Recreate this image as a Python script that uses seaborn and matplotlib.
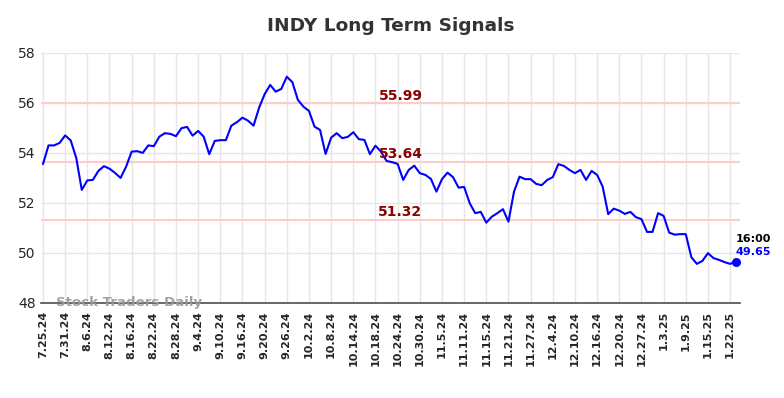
import numpy as np
import pandas as pd
import seaborn as sns
import matplotlib
matplotlib.use('Agg')
import matplotlib.pyplot as plt

TICKER = "INDY"

# closing prices, one per trading day from 7.25.24
closes = [
    53.55, 54.30, 54.30, 54.40, 54.70, 54.50, 53.80, 52.52, 52.90, 52.92,
    53.28, 53.47, 53.37, 53.20, 53.00, 53.45, 54.05, 54.07, 54.00, 54.30,
    54.27, 54.65, 54.79, 54.76, 54.67, 54.99, 55.04, 54.69, 54.88, 54.65,
    53.95, 54.48, 54.51, 54.51, 55.09, 55.23, 55.41, 55.29, 55.09, 55.81,
    56.35, 56.72, 56.45, 56.56, 57.05, 56.83, 56.12, 55.85, 55.68, 55.05,
    54.92, 53.96, 54.61, 54.79, 54.59, 54.64, 54.83, 54.55, 54.52, 53.95,
    54.29, 54.05, 53.68, 53.63, 53.56, 52.92, 53.32, 53.49, 53.19, 53.12,
    52.96, 52.45, 52.95, 53.21, 53.03, 52.61, 52.64, 51.99, 51.59, 51.64,
    51.21, 51.45, 51.59, 51.75, 51.25, 52.45, 53.05, 52.95, 52.95, 52.76,
    52.71, 52.92, 53.03, 53.55, 53.48, 53.32, 53.19, 53.32, 52.92, 53.28,
    53.12, 52.65, 51.55, 51.77, 51.69, 51.56, 51.64, 51.43, 51.35, 50.84,
    50.84, 51.59, 51.48, 50.81, 50.73, 50.75, 50.75, 49.83, 49.56, 49.68,
    49.99, 49.79, 49.72, 49.63, 49.56, 49.65,
]

# a label every 4 trading days
tick_labels = [
    "7.25.24", "7.31.24", "8.6.24", "8.12.24", "8.16.24", "8.22.24", "8.28.24",
    "9.4.24", "9.10.24", "9.16.24", "9.20.24", "9.26.24", "10.2.24", "10.8.24",
    "10.14.24", "10.18.24", "10.24.24", "10.30.24", "11.5.24", "11.11.24",
    "11.15.24", "11.21.24", "11.27.24", "12.4.24", "12.10.24", "12.16.24",
    "12.20.24", "12.27.24", "1.3.25", "1.9.25", "1.15.25", "1.22.25",
]
tick_step = 4

levels = [55.99, 53.64, 51.32]
last_time = "16:00"

df = pd.DataFrame({"day": np.arange(len(closes)), "close": closes})

sns.set_theme(style="white")
plt.rcParams['font.family'] = ['DejaVu Sans']

fig = plt.figure(figsize=(7.84, 3.98), dpi=100)
ax = fig.add_axes([0.052, 0.239, 0.892, 0.628])

for lv in levels:
    ax.axhline(lv, color='#ffcccc', linewidth=1.5, zorder=1)

sns.lineplot(data=df, x="day", y="close", color='#0000ff', linewidth=1.5, ax=ax, zorder=3)

last_i = len(closes) - 1
ax.scatter([last_i], [closes[-1]], color='#0000ff', s=30, zorder=4)

label_x = 64.5
for lv in levels:
    ax.text(label_x, lv + 0.02, f"{lv:.2f}", color='#8b0000', fontsize=10,
            fontweight='bold', ha='center', va='bottom', zorder=5)

ax.text(last_i, closes[-1] + 0.7, last_time, color='black', fontsize=8,
        fontweight='bold', ha='left', va='bottom')
ax.text(last_i, closes[-1] + 0.18, f"{closes[-1]:.2f}", color='#0000ff', fontsize=8,
        fontweight='bold', ha='left', va='bottom')

ax.text(2.3, 48.0, "Stock Traders Daily", color='#999999', fontsize=9.6,
        fontweight='bold', ha='left', va='center', alpha=0.9, zorder=6)

ax.set_xlim(-0.4, 125.8)
ax.set_ylim(48, 58)
ax.set_yticks(range(48, 59, 2))
ax.set_xticks(np.arange(len(tick_labels)) * tick_step)
ax.set_xticklabels(tick_labels, rotation=90, fontsize=8, fontweight='bold')
ax.tick_params(axis='y', labelsize=10, length=0)
ax.tick_params(axis='x', length=0, pad=6)
ax.set_xlabel("")
ax.set_ylabel("")

ax.grid(True, color='#e6e6e6', linewidth=1)
for side in ['top', 'right', 'left']:
    ax.spines[side].set_visible(False)
ax.spines['bottom'].set_color('#555555')

ax.set_title(f"{TICKER} Long Term Signals", fontsize=13.3, fontweight='bold',
             color='#333333', pad=16)

plt.savefig("out.png", dpi=100)
